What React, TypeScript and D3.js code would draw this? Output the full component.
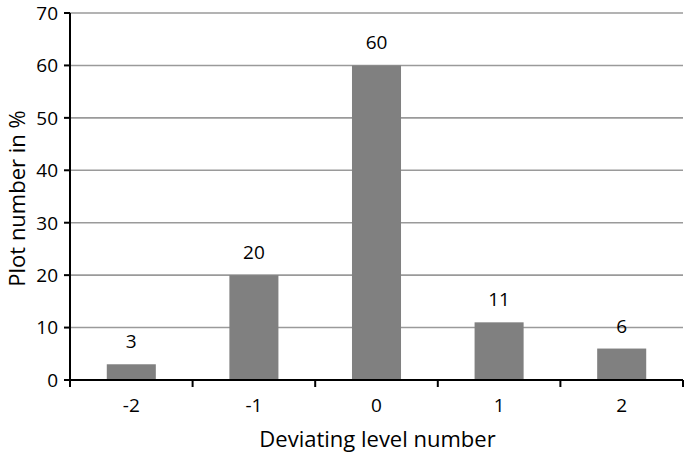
import * as d3 from "d3";
import React from "react";

const categories = ["-2", "-1", "0", "1", "2"];
const values = [3, 20, 60, 11, 6];
const yTicks = [0, 10, 20, 30, 40, 50, 60, 70];

const W = 685;
const H = 453;
const margin = {left: 70, right: 2, top: 13, bottom: 73};
const font = "'Open Sans', 'Noto Sans', sans-serif";

const App = () => {
    const innerW = W - margin.left - margin.right;
    const innerH = H - margin.top - margin.bottom;

    const x = d3.scaleBand().domain(categories).range([0, innerW]);
    const y = d3.scaleLinear().domain([0, 70]).range([innerH, 0]);
    const barW = x.bandwidth() * 0.4;

    return (
        <svg width={W} height={H} style={{position: "absolute", left: 0, top: 0}}>
            <g transform={`translate(${margin.left},${margin.top})`} fontFamily={font}>
                {/* grid lines */}
                {yTicks.filter(t => t > 0).map(t => (
                    <line key={t} x1={0} x2={innerW} y1={y(t)} y2={y(t)} stroke="#9a9a9a" strokeWidth={1.6}/>
                ))}
                {/* bars */}
                {categories.map((c, i) => (
                    <g key={c}>
                        <rect x={x(c)! + (x.bandwidth() - barW) / 2} y={y(values[i])}
                              width={barW} height={innerH - y(values[i])} fill="#808080"/>
                        <text x={x(c)! + x.bandwidth() / 2} y={y(values[i]) - 16}
                              textAnchor="middle" fontSize={19} fill="#000">{values[i]}</text>
                    </g>
                ))}
                {/* y axis */}
                <line x1={0} x2={0} y1={0} y2={innerH} stroke="#000" strokeWidth={2}/>
                {yTicks.map(t => (
                    <g key={t}>
                        <line x1={-6} x2={0} y1={y(t)} y2={y(t)} stroke="#000" strokeWidth={2}/>
                        <text x={-12} y={y(t)} dy="0.36em" textAnchor="end" fontSize={19}>{t}</text>
                    </g>
                ))}
                {/* x axis */}
                <line x1={0} x2={innerW} y1={innerH} y2={innerH} stroke="#000" strokeWidth={2}/>
                {categories.map(c => (
                    <line key={c} x1={x(c)!} x2={x(c)!} y1={innerH} y2={innerH + 7} stroke="#000" strokeWidth={2}/>
                ))}
                <line x1={innerW} x2={innerW} y1={innerH} y2={innerH + 7} stroke="#000" strokeWidth={2}/>
                {categories.map(c => (
                    <text key={c} x={x(c)! + x.bandwidth() / 2} y={innerH + 32} textAnchor="middle" fontSize={19}>{c}</text>
                ))}
                <text x={innerW / 2 + 1} y={innerH + 67} textAnchor="middle" fontSize={22}>Deviating level number</text>
                <text transform={`translate(${-45},${innerH / 2 + 2}) rotate(-90)`} textAnchor="middle"
                      fontSize={22}>Plot number in %</text>
            </g>
        </svg>
    );
};

export default App;
